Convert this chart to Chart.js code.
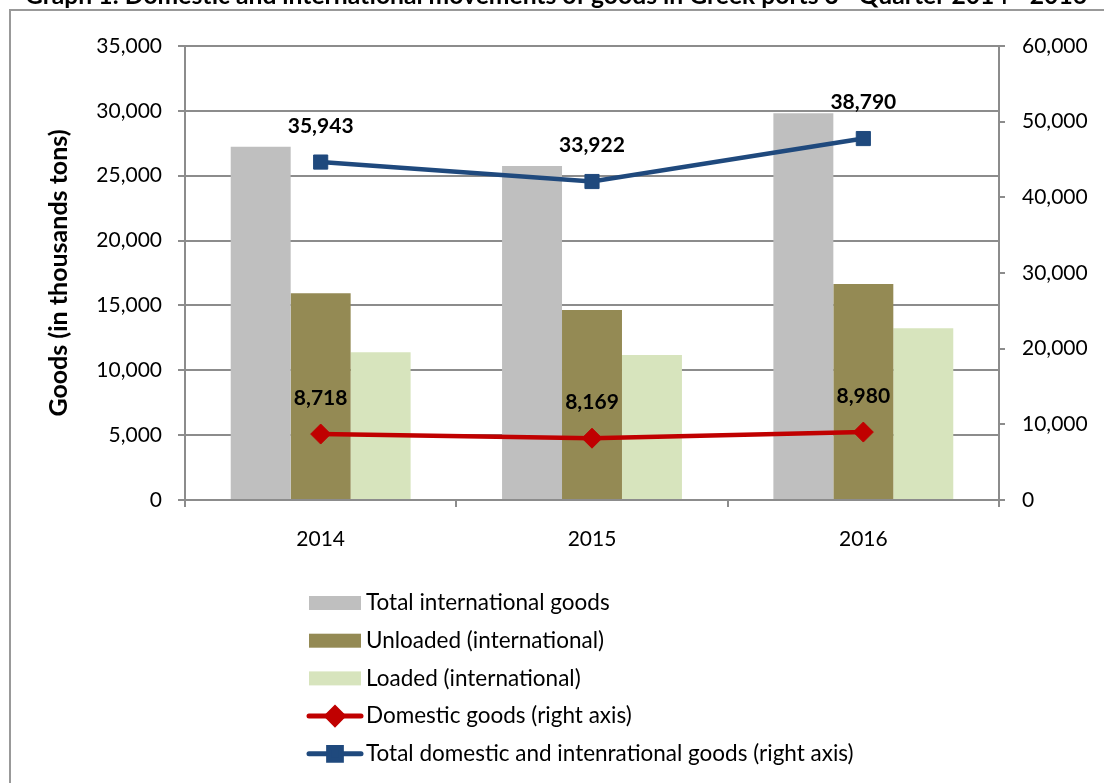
<!DOCTYPE html>
<html>
<head>
<meta charset="utf-8">
<script src="https://cdn.jsdelivr.net/npm/chart.js"></script>
<style>
    html, body { margin: 0; padding: 0; background: #fff; overflow: hidden; }
    canvas { display: block; }
</style>
</head>
<body>
<canvas id="chartjs_goodsChart" width="1104" height="783"></canvas>
<script>
var years = ["2014", "2015", "2016"];
var totalInternational = [27225, 25753, 29810];
var unloadedInternational = [15930, 14650, 16650];
var loadedInternational = [11390, 11180, 13240];
var domesticGoods = [8718, 8169, 8980];
var totalGoods = [44661, 42091, 47770];
var totalGoodsLabels = [35943, 33922, 38790];
var leftTicks = [0, 5000, 10000, 15000, 20000, 25000, 30000, 35000];
var rightTicks = [0, 10000, 20000, 30000, 40000, 50000, 60000];

var FONT = "Lato, 'Open Sans', sans-serif";
var GRID = "#8c8c8c";

function fmt(v) {
    return Number(v).toLocaleString("en-US");
}

// frame and the (cut off) title at the top
var framePlugin = {
    id: "frame",
    beforeDraw: function (chart) {
        var ctx = chart.ctx;
        ctx.save();
        ctx.fillStyle = "#fff";
        ctx.fillRect(0, 0, chart.width, chart.height);
        ctx.strokeStyle = "#999";
        ctx.lineWidth = 2;
        ctx.strokeRect(10, 10, chart.width + 50, chart.height + 50);

        var part1 = "Graph 1: Domestic and international movements of goods in Greek ports 3";
        var part2 = " Quarter 2014 - 2016";
        ctx.font = "bold 20px " + FONT;
        var w = ctx.measureText(part1 + "rd" + part2).width;
        var size = 20 * 1072 / w;
        ctx.fillStyle = "#000";
        ctx.textBaseline = "alphabetic";
        ctx.textAlign = "left";
        ctx.font = "bold " + size + "px " + FONT;
        var x = 25;
        ctx.fillText(part1, x, 4);
        x += ctx.measureText(part1).width;
        ctx.font = "bold " + (size * 0.6) + "px " + FONT;
        ctx.fillText("rd", x, -4);
        x += ctx.measureText("rd").width;
        ctx.font = "bold " + size + "px " + FONT;
        ctx.fillText(part2, x, 4);
        ctx.restore();
    }
};

// value labels above the line points
var labelPlugin = {
    id: "pointLabels",
    afterDatasetsDraw: function (chart) {
        var ctx = chart.ctx;
        ctx.save();
        ctx.font = "bold 21px " + FONT;
        ctx.fillStyle = "#000";
        ctx.textAlign = "center";
        ctx.textBaseline = "middle";
        chart.data.datasets.forEach(function (ds, i) {
            if (!ds.valueLabels) return;
            var meta = chart.getDatasetMeta(i);
            meta.data.forEach(function (pt, j) {
                ctx.fillText(fmt(ds.valueLabels[j]), pt.x, pt.y - 36);
            });
        });
        ctx.restore();
    }
};

// legend as one column under the plot
var legendPlugin = {
    id: "columnLegend",
    afterDraw: function (chart) {
        var ctx = chart.ctx;
        var y0 = chart.chartArea.bottom + 103;
        ctx.save();
        ctx.font = "22.5px " + FONT;
        ctx.textBaseline = "middle";
        ctx.textAlign = "left";
        chart.data.datasets.forEach(function (ds, i) {
            var cy = y0 + i * 37.7;
            if (ds.type === "line") {
                ctx.strokeStyle = ds.borderColor;
                ctx.lineWidth = 5;
                ctx.lineCap = "round";
                ctx.beginPath();
                ctx.moveTo(309, cy);
                ctx.lineTo(361, cy);
                ctx.stroke();
                ctx.fillStyle = ds.pointBackgroundColor;
                ctx.strokeStyle = ds.pointBorderColor;
                Chart.helpers.drawPoint(ctx, {
                    pointStyle: ds.pointStyle,
                    radius: ds.pointStyle === "rect" ? 9 : 8,
                    borderWidth: 1
                }, 335, cy);
            } else {
                ctx.fillStyle = ds.backgroundColor;
                ctx.fillRect(309, cy - 7, 52, 14);
            }
            ctx.fillStyle = "#000";
            ctx.fillText(ds.label, 366, cy);
        });
        ctx.restore();
    }
};

function loadChart() {
    var ctx = document.getElementById("chartjs_goodsChart").getContext("2d");
    var myChart = new Chart(ctx, {
        type: "bar",
        data: {
            labels: years,
            datasets: [{
                label: "Total international goods",
                data: totalInternational,
                backgroundColor: "#BFBFBF",
                yAxisID: "y",
                order: 1
            }, {
                label: "Unloaded (international)",
                data: unloadedInternational,
                backgroundColor: "#948A54",
                yAxisID: "y",
                order: 1
            }, {
                label: "Loaded (international)",
                data: loadedInternational,
                backgroundColor: "#D7E4BD",
                yAxisID: "y",
                order: 1
            }, {
                type: "line",
                label: "Domestic goods (right axis)",
                data: domesticGoods,
                valueLabels: domesticGoods,
                borderColor: "#C00000",
                backgroundColor: "#C00000",
                borderWidth: 4.5,
                pointStyle: "rectRot",
                pointRadius: 10,
                pointBackgroundColor: "#C00000",
                pointBorderColor: "#C00000",
                pointBorderWidth: 1,
                yAxisID: "y1",
                order: 0
            }, {
                type: "line",
                label: "Total domestic and intenrational goods (right axis)",
                data: totalGoods,
                valueLabels: totalGoodsLabels,
                borderColor: "#1F497D",
                backgroundColor: "#1F497D",
                borderWidth: 4.5,
                pointStyle: "rect",
                pointRadius: 10,
                pointBackgroundColor: "#1F497D",
                pointBorderColor: "#1F497D",
                pointBorderWidth: 1,
                yAxisID: "y1",
                order: 0
            }]
        },
        options: {
            responsive: false,
            animation: false,
            devicePixelRatio: 1,
            layout: { padding: { top: 46, left: 0, right: 0, bottom: 223 } },
            datasets: {
                bar: { categoryPercentage: 0.663, barPercentage: 1.0 }
            },
            plugins: {
                legend: { display: false },
                tooltip: { enabled: false }
            },
            scales: {
                x: {
                    offset: true,
                    grid: { offset: true, drawOnChartArea: false, drawTicks: true, tickLength: 7, color: GRID, lineWidth: 2 },
                    border: { color: GRID, width: 2 },
                    ticks: { color: "#000", font: { family: FONT, size: 21 }, padding: 20 },
                    afterFit: function (scale) { scale.height = 60; }
                },
                y: {
                    position: "left",
                    min: 0,
                    max: 35000,
                    afterBuildTicks: function (scale) {
                        scale.ticks = leftTicks.map(function (v) { return { value: v }; });
                    },
                    grid: { color: GRID, lineWidth: 2, tickLength: 7 },
                    border: { color: GRID, width: 2 },
                    ticks: {
                        color: "#000",
                        font: { family: FONT, size: 21 },
                        padding: 16,
                        callback: function (v) { return fmt(v); }
                    },
                    title: {
                        display: true,
                        text: "Goods (in thousands tons)",
                        color: "#000",
                        font: { family: FONT, size: 25, weight: "bold" },
                        padding: { top: 44, bottom: 0 }
                    },
                    afterFit: function (scale) { scale.width = 185; }
                },
                y1: {
                    position: "right",
                    min: 0,
                    max: 60000,
                    afterBuildTicks: function (scale) {
                        scale.ticks = rightTicks.map(function (v) { return { value: v }; });
                    },
                    grid: { drawOnChartArea: false, color: GRID, lineWidth: 2, tickLength: 6 },
                    border: { color: GRID, width: 2 },
                    ticks: {
                        color: "#000",
                        font: { family: FONT, size: 21 },
                        padding: 17,
                        callback: function (v) { return fmt(v); }
                    },
                    afterFit: function (scale) { scale.width = 105; }
                }
            }
        },
        plugins: [framePlugin, labelPlugin, legendPlugin]
    });
}

loadChart();
</script>
</body>
</html>
